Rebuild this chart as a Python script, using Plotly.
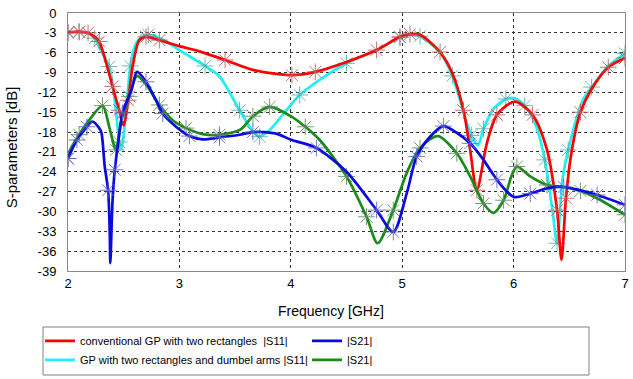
import plotly.graph_objects as go

# ---------------- data ----------------
red_f = [2.00, 2.10, 2.18, 2.24, 2.28, 2.34, 2.40, 2.46, 2.50, 2.54, 2.58, 2.64, 2.70, 2.82,
         3.00, 3.18, 3.41, 3.66, 4.01, 4.22, 4.50, 4.77, 4.98, 5.07, 5.16, 5.34, 5.45, 5.55,
         5.61, 5.67, 5.76, 5.85, 6.01, 6.17, 6.30, 6.39, 6.43, 6.47, 6.52, 6.60, 6.70, 6.85, 7.00]
red_db = [-2.9, -2.8, -3.0, -3.6, -4.3, -7.4, -11.1, -14.7, -17.0, -13.2, -8.1, -4.1, -3.6, -4.1,
          -5.0, -5.8, -7.1, -8.6, -9.4, -8.9, -7.4, -5.6, -3.6, -3.2, -3.3, -5.9, -9.1, -14.7,
          -20.7, -26.8, -19.7, -15.4, -13.4, -15.4, -20.7, -29.8, -37.3, -28.0, -21.0, -15.0, -11.5, -8.2, -6.8]

cyan_f = [2.00, 2.10, 2.18, 2.24, 2.29, 2.37, 2.43, 2.46, 2.48, 2.52, 2.56, 2.60, 2.66, 2.72,
          2.85, 3.00, 3.23, 3.36, 3.54, 3.66, 3.72, 3.81, 3.95, 4.08, 4.26, 4.50, 4.77, 4.98,
          5.07, 5.16, 5.34, 5.45, 5.55, 5.62, 5.68, 5.73, 5.82, 5.93, 6.01, 6.10, 6.20, 6.28,
          6.35, 6.39, 6.44, 6.49, 6.62, 6.70, 6.85, 7.00]
cyan_db = [-3.0, -2.9, -3.1, -3.8, -5.5, -8.1, -14.7, -19.5, -20.5, -15.0, -8.0, -5.0, -3.6, -3.3,
           -4.0, -5.6, -8.0, -9.6, -14.7, -17.9, -18.7, -17.7, -14.9, -12.4, -10.1, -7.6, -5.6, -3.7,
           -3.3, -3.5, -6.0, -9.5, -15.0, -18.5, -20.0, -17.5, -14.5, -13.0, -12.9, -14.0, -17.0, -22.2,
           -30.0, -34.8, -25.0, -20.7, -13.2, -11.2, -8.0, -6.1]

blue_f = [2.00, 2.08, 2.17, 2.22, 2.28, 2.30, 2.33, 2.36, 2.375, 2.38, 2.40, 2.42, 2.45, 2.49,
          2.57, 2.62, 2.70, 2.79, 2.85, 2.97, 3.09, 3.21, 3.36, 3.54, 3.66, 3.86, 4.01, 4.23,
          4.50, 4.77, 4.92, 5.04, 5.13, 5.25, 5.37, 5.49, 5.61, 5.73, 5.85, 6.00, 6.15, 6.30,
          6.45, 6.60, 6.75, 7.00]
blue_db = [-22.0, -19.2, -17.2, -16.4, -17.4, -18.1, -23.2, -26.8, -33.3, -37.8, -28.3, -23.7, -19.7, -15.1,
           -11.6, -8.9, -10.4, -13.2, -15.2, -17.2, -18.6, -19.1, -18.8, -18.4, -18.0, -18.2, -19.2, -20.4,
           -24.0, -29.8, -33.1, -27.3, -21.7, -18.7, -17.1, -18.1, -19.7, -22.2, -25.2, -27.8, -27.3, -26.5,
           -26.3, -26.8, -27.5, -29.0]

green_f = [2.00, 2.02, 2.10, 2.19, 2.31, 2.37, 2.43, 2.48, 2.55, 2.62, 2.70, 2.82, 2.94, 3.06,
           3.21, 3.36, 3.55, 3.66, 3.81, 4.01, 4.13, 4.26, 4.50, 4.68, 4.78, 4.92, 5.04, 5.16,
           5.32, 5.49, 5.61, 5.73, 5.82, 5.91, 5.98, 6.03, 6.15, 6.30, 6.45, 6.60, 6.75, 7.00]
green_db = [-22.0, -20.7, -18.4, -16.2, -14.0, -17.2, -20.7, -16.2, -12.6, -9.5, -10.8, -13.9, -16.2, -17.4,
            -18.3, -18.4, -17.6, -15.6, -14.2, -15.7, -17.2, -19.2, -24.7, -30.8, -34.8, -29.8, -24.2, -20.4,
            -18.6, -21.2, -24.7, -28.8, -30.2, -28.3, -24.7, -23.2, -24.7, -26.0, -26.3, -26.9, -28.0, -30.5]

# indices of the points that carry a '*' marker in the reference
red_mk = [0, 1, 2, 4, 6, 7, 9, 12, 13, 16, 18, 19, 21, 22, 23, 25, 27, 29, 31, 33, 35, 37, 39, 41, 42]
cyan_mk = [0, 1, 3, 5, 7, 10, 13, 16, 18, 20, 23, 25, 27, 29, 31, 33, 35, 37, 39, 41, 43, 45, 47, 49]
blue_mk = [0, 1, 2, 7, 11, 13, 16, 18, 20, 22, 24, 27, 29, 30, 32, 34, 36, 38, 40, 42, 44, 45]
green_mk = [0, 2, 4, 6, 8, 11, 13, 15, 17, 18, 20, 22, 23, 25, 27, 29, 31, 33, 35, 37, 39, 41]

names = ["conventional GP with two rectangles  |S11|", "|S21|",
         "GP with two rectangles and dumbel arms |S11|", "|S21|"]

x_ticks = [2, 3, 4, 5, 6, 7]
y_ticks = [0, -3, -6, -9, -12, -15, -18, -21, -24, -27, -30, -33, -36, -39]
y_tick_text = ["0", "-3", "-6", "-9", "-12", "-15", "-18", "-21", "-24", "-27", "-30", "-33", "-36", "-39"]

FONT = "Liberation Sans, Arial, Helvetica, sans-serif"

series = [
    # f, db, marker idx, line colour, marker colour, legend name, legend rank
    (cyan_f, cyan_db, cyan_mk, "#22f0f0", "rgba(90,170,170,0.85)", names[2], 3),
    (red_f, red_db, red_mk, "#ff0000", "rgba(190,90,90,0.85)", names[0], 1),
    (green_f, green_db, green_mk, "#1a8a1a", "rgba(90,140,90,0.85)", names[3], 4),
    (blue_f, blue_db, blue_mk, "#0a0ae0", "rgba(90,100,200,0.85)", names[1], 2),
]

fig = go.Figure()
for f, db, mk, col, mcol, nm, rank in series:
    fig.add_trace(go.Scatter(
        x=f, y=db, mode="lines", name=nm, legendrank=rank,
        line=dict(color=col, width=2.7, shape="spline", smoothing=0.8),
        hoverinfo="skip"))
    fig.add_trace(go.Scatter(
        x=[f[i] for i in mk], y=[db[i] for i in mk], mode="markers",
        showlegend=False, hoverinfo="skip",
        marker=dict(symbol="asterisk-open", size=14, color=mcol,
                    line=dict(color=mcol, width=1))))

fig.update_layout(
    width=633, height=379,
    margin=dict(l=68, r=8, t=13, b=108),
    paper_bgcolor="white", plot_bgcolor="white",
    font=dict(family=FONT, size=13, color="black"),
    showlegend=True,
    legend=dict(orientation="h", xref="container", yref="container",
                x=40 / 633, y=0.012, xanchor="left", yanchor="bottom",
                borderwidth=0, bgcolor="rgba(0,0,0,0)",
                font=dict(family=FONT, size=11, color="black"),
                entrywidth=222, entrywidthmode="pixels", traceorder="normal"),
    xaxis=dict(range=[2, 7], tickvals=x_ticks, ticktext=[str(v) for v in x_ticks],
               showgrid=True, gridcolor="#333333", griddash="3px,3px", gridwidth=1,
               showline=True, linecolor="#8a8a8a", linewidth=1, mirror=True,
               zeroline=False, ticks="", tickfont=dict(size=13), fixedrange=True,
               automargin=False, ticklabeloverflow="allow"),
    yaxis=dict(range=[-39, 0], tickvals=y_ticks, ticktext=y_tick_text,
               showgrid=True, gridcolor="#333333", griddash="3px,3px", gridwidth=1,
               showline=True, linecolor="#8a8a8a", linewidth=1, mirror=True,
               zeroline=True, zerolinecolor="black", zerolinewidth=1.5,
               ticks="", ticklabelstandoff=8, tickfont=dict(size=13), fixedrange=True,
               automargin=False, ticklabeloverflow="allow"),
    annotations=[
        dict(text="Frequency [GHz]", xref="paper", yref="paper", x=0.472, y=-0.155,
             xanchor="center", yanchor="middle", showarrow=False,
             font=dict(family=FONT, size=14)),
        dict(text="S-parameters [dB]", xref="paper", yref="paper", x=-0.102, y=0.48,
             xanchor="center", yanchor="middle", showarrow=False, textangle=-90,
             font=dict(family=FONT, size=15)),
    ],
    # frame around the legend
    shapes=[dict(type="rect", xref="paper", yref="paper",
                 x0=-25 / 557, x1=521 / 557, y0=-104 / 258, y1=-56 / 258,
                 line=dict(color="#808080", width=1), fillcolor="rgba(0,0,0,0)",
                 layer="below")],
)

fig.write_html("out.html", config={"displayModeBar": False},
               post_script="document.body.style.margin='0px';")
